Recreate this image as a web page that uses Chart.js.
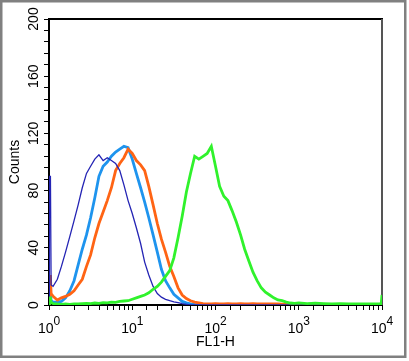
<!DOCTYPE html>
<html>
<head>
<meta charset="utf-8">
<script src="https://cdn.jsdelivr.net/npm/chart.js@4/dist/chart.umd.min.js"></script>
<style>
  html, body { margin: 0; padding: 0; background: #fff; }
  canvas { display: block; }
</style>
</head>
<body>
<canvas id="histChart" width="409" height="361"></canvas>
<script>
// FL1-H channel positions (log scale) shared by all four histograms
const channels = [1, 1.01, 1.04, 1.06, 1.12, 1.26, 1.41, 1.58, 1.78, 2, 2.24, 2.51, 2.82, 3.16, 3.55,
  3.98, 4.47, 5.01, 5.62, 6.31, 7.08, 7.94, 8.91, 10, 11.2, 12.6, 14.1, 15.8, 17.8, 20, 22.4, 25.1,
  28.2, 31.6, 35.5, 39.8, 44.7, 50.1, 56.2, 63.1, 70.8, 79.4, 89.1, 100, 112, 126, 141, 158, 178, 200,
  224, 251, 282, 316, 355, 398, 447, 501, 562, 631, 708, 794, 891, 1000, 1260, 1580, 2000, 2510, 3160,
  3980, 5010, 6310, 7940, 9770, 10000];

const navyCounts = [0, 90, 90, 14, 13, 18, 27, 37, 48, 59, 70, 82, 92, 97, 102, 105, 101, 103, 101, 99,
  94, 84, 73, 64, 54, 43, 30, 21, 13, 8, 5.5, 4, 3, 2.2, 1.6, 1, 0.5, 0, 0, 0, 0, 0, 0, 0, 0, 0, 0, 0,
  0, 0, 0, 0, 0, 0, 0, 0, 0, 0, 0, 0, 0, 0, 0, 0, 0, 0, 0, 0, 0, 0, 0, 0, 0, 0, 0];

const blueCounts = [0, 10, 10, 3, 2, 2, 2.5, 5, 10, 17, 28, 39, 49, 61, 75, 90, 97, 100, 104, 107, 109,
  111, 110, 102, 92, 82, 72, 61, 49, 37, 25, 17, 12, 7.5, 5, 2.5, 1.5, 0.8, 0.5, 0.3, 0, 0, 0, 0, 0,
  0, 0, 0, 0, 0, 0, 0, 0, 0, 0, 0, 0, 0, 0, 0, 0, 0, 0, 0, 0, 0, 0, 0, 0, 0, 0, 0, 0, 0, 0];

const orangeCounts = [0, 20, 20, 8, 6, 3.5, 5, 6, 7.5, 10, 14, 18, 27, 35, 47, 57, 65, 73, 82, 94, 99,
  103, 109, 106, 101, 98, 94, 83, 70, 57, 46, 37, 27, 20, 12, 7, 4.5, 3, 2, 1.5, 1, 0.8, 0.8, 1, 0.8,
  0.8, 1, 0.8, 0.8, 1, 0.8, 0.8, 1, 0.8, 0.8, 0.8, 0.7, 0.7, 0.7, 0.6, 0.6, 0.5, 0.5, 0.3, 0, 0, 0,
  0, 0, 0, 0, 0, 0, 0, 0];

const greenCounts = [0, 5, 5, 2, 1, 0.7, 0.5, 0.7, 0.5, 0.8, 0.7, 1, 1.2, 1, 1.4, 1.2, 1.6, 1.5, 2, 1.8,
  2.5, 2.8, 3, 4, 5, 6, 7, 8.5, 11, 13, 16, 20, 24, 33, 47, 62, 79, 92, 104, 102, 104, 106, 111, 97,
  83, 76, 73, 66, 58, 49, 39, 31, 23, 17, 12, 9, 7, 5, 3.5, 3, 2, 1.4, 1.2, 1.5, 1, 1.3, 1, 0.8, 1,
  0.8, 0.7, 0.8, 0.7, 0.8, 7];

const xTickLabels = [1, 10, 100, 1000, 10000];
const xTickExponents = ['0', '1', '2', '3', '4'];
const yTickLabels = [0, 40, 80, 120, 160, 200];

const FONT = '"Liberation Sans", Arial, Helvetica, sans-serif';

function points(counts) {
  return channels.map((x, i) => ({ x: x, y: counts[i] }));
}

const frameAndLabels = {
  id: 'frameAndLabels',
  beforeDraw(chart) {
    const ctx = chart.ctx;
    ctx.save();
    ctx.fillStyle = '#fff';
    ctx.fillRect(0, 0, chart.width, chart.height);
    ctx.strokeStyle = '#808080';
    ctx.lineWidth = 2.5;
    ctx.strokeRect(1.25, 1.25, 404, 355.5);
    ctx.restore();
  },
  beforeDatasetsDraw(chart) {
    const { ctx, chartArea: a } = chart;
    ctx.save();
    ctx.lineWidth = 2;
    ctx.strokeStyle = '#000';
    ctx.beginPath();
    ctx.moveTo(a.left - 1, a.top);
    ctx.lineTo(a.right + 1, a.top);
    ctx.stroke();
    ctx.strokeStyle = '#555';
    ctx.beginPath();
    ctx.moveTo(a.right, a.top);
    ctx.lineTo(a.right, a.bottom);
    ctx.stroke();
    ctx.restore();
  },
  afterDraw(chart) {
    const { ctx, scales: { x, y } } = chart;
    ctx.save();
    ctx.fillStyle = '#000';
    // x labels: 10 with a raised exponent
    xTickLabels.forEach((v, i) => {
      const px = x.getPixelForValue(v);
      ctx.font = '14px ' + FONT;
      const w1 = ctx.measureText('10').width;
      ctx.font = '12px ' + FONT;
      const w2 = ctx.measureText(xTickExponents[i]).width;
      const start = px - (w1 + w2) / 2;
      ctx.textAlign = 'left';
      ctx.textBaseline = 'alphabetic';
      ctx.font = '14px ' + FONT;
      ctx.fillText('10', start, 333);
      ctx.font = '12px ' + FONT;
      ctx.fillText(xTickExponents[i], start + w1, 325);
    });
    // y labels, rotated
    ctx.font = '14px ' + FONT;
    ctx.textAlign = 'center';
    ctx.textBaseline = 'alphabetic';
    yTickLabels.forEach(v => {
      const py = y.getPixelForValue(v);
      ctx.save();
      ctx.translate(38, py);
      ctx.rotate(-Math.PI / 2);
      ctx.fillText(String(v), 0, 0);
      ctx.restore();
    });
    ctx.restore();
  }
};

const chart = new Chart(document.getElementById('histChart').getContext('2d'), {
  type: 'line',
  data: {
    datasets: [
      { data: points(greenCounts), borderColor: '#30f22c', borderWidth: 2.8 },
      { data: points(navyCounts), borderColor: '#2424b4', borderWidth: 1.3 },
      { data: points(orangeCounts), borderColor: '#ff6414', borderWidth: 2.8 },
      { data: points(blueCounts), borderColor: '#1e94ee', borderWidth: 2.8 }
    ]
  },
  options: {
    responsive: false,
    animation: false,
    events: [],
    elements: { point: { radius: 0 }, line: { tension: 0, fill: false } },
    layout: { padding: { top: 19, right: 27, left: 0, bottom: 0 } },
    plugins: { legend: { display: false }, tooltip: { enabled: false } },
    scales: {
      x: {
        type: 'logarithmic',
        min: 1,
        max: 10000,
        afterFit(scale) { scale.height = 56; },
        grid: { display: true, drawOnChartArea: false, drawTicks: true, tickLength: 5, color: '#000' },
        border: { display: true, color: '#000', width: 2 },
        ticks: { display: false, autoSkip: false },
        title: {
          display: true,
          text: 'FL1-H',
          color: '#000',
          font: { family: FONT, size: 14 },
          padding: { top: 0, bottom: 10 }
        }
      },
      y: {
        type: 'linear',
        min: 0,
        max: 200,
        afterFit(scale) { scale.width = 49; },
        grid: { display: true, drawOnChartArea: false, drawTicks: true, tickLength: 5, color: '#000' },
        border: { display: true, color: '#000', width: 2 },
        ticks: { display: false, stepSize: 8, maxTicksLimit: 40 },
        title: {
          display: true,
          text: 'Counts',
          color: '#000',
          font: { family: FONT, size: 14 },
          padding: { top: 7, bottom: 0 }
        }
      }
    }
  },
  plugins: [frameAndLabels]
});
</script>
</body>
</html>
